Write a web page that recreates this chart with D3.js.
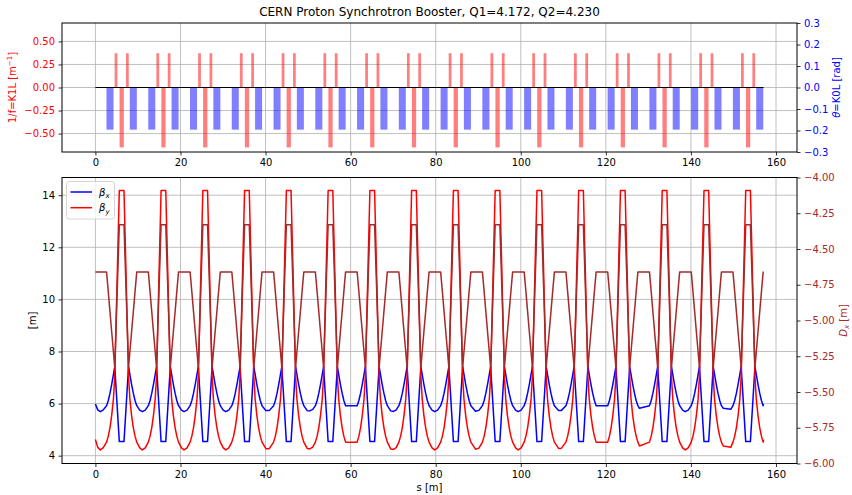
<!DOCTYPE html>
<html><head><meta charset="utf-8">
<script src="https://cdn.jsdelivr.net/npm/d3@7"></script>
<style>
body{margin:0;background:#fff}
text{font-family:"DejaVu Sans",sans-serif}
</style>
</head><body>
<svg id="c" width="852" height="495"></svg>
<script>
// ---------------- data ----------------
const title = "CERN Proton Synchrotron Booster, Q1=4.172, Q2=4.230";
const sTicks = [0, 20, 40, 60, 80, 100, 120, 140, 160];
const k1Ticks = [-0.5, -0.25, 0, 0.25, 0.5];
const k0Ticks = [-0.3, -0.2, -0.1, 0, 0.1, 0.2, 0.3];
const betaTicks = [4, 6, 8, 10, 12, 14];
const dxTicks = [-6, -5.75, -5.5, -5.25, -5, -4.75, -4.5, -4.25, -4];
const ringLength = 157.08;

// quadrupoles (centre s, K1L, length)
const quadS = [
  4.84, 6.18, 7.51, 14.66, 16.00, 17.33, 24.48, 25.82, 27.15, 34.29, 35.63, 36.96,
  44.11, 45.45, 46.78, 53.93, 55.27, 56.60, 63.75, 65.09, 66.42, 73.56, 74.90, 76.23,
  83.38, 84.72, 86.05, 93.20, 94.54, 95.87, 103.02, 104.36, 105.69, 112.83, 114.17, 115.50,
  122.65, 123.99, 125.32, 132.47, 133.81, 135.14, 142.29, 143.63, 144.96, 152.10, 153.44, 154.77
];
const quadK1L = [
  0.372, -0.65, 0.372, 0.372, -0.65, 0.372, 0.372, -0.65, 0.372, 0.372, -0.65, 0.372,
  0.372, -0.65, 0.372, 0.372, -0.65, 0.372, 0.372, -0.65, 0.372, 0.372, -0.65, 0.372,
  0.372, -0.65, 0.372, 0.372, -0.65, 0.372, 0.372, -0.65, 0.372, 0.372, -0.65, 0.372,
  0.372, -0.65, 0.372, 0.372, -0.65, 0.372, 0.372, -0.65, 0.372, 0.372, -0.65, 0.372
];
const quadL = [
  0.65, 1.0, 0.65, 0.65, 1.0, 0.65, 0.65, 1.0, 0.65, 0.65, 1.0, 0.65,
  0.65, 1.0, 0.65, 0.65, 1.0, 0.65, 0.65, 1.0, 0.65, 0.65, 1.0, 0.65,
  0.65, 1.0, 0.65, 0.65, 1.0, 0.65, 0.65, 1.0, 0.65, 0.65, 1.0, 0.65,
  0.65, 1.0, 0.65, 0.65, 1.0, 0.65, 0.65, 1.0, 0.65, 0.65, 1.0, 0.65
];
// dipoles (centre s, K0L, length)
const dipS = [
  3.43, 8.91, 13.25, 18.73, 23.07, 28.55, 32.88, 38.36, 42.70, 48.18, 52.52, 58.00,
  62.34, 67.82, 72.15, 77.63, 81.97, 87.45, 91.79, 97.27, 101.61, 107.09, 111.42, 116.90,
  121.24, 126.72, 131.06, 136.54, 140.88, 146.36, 150.69, 156.17
];
const dipK0L = [
  -0.196, -0.196, -0.196, -0.196, -0.196, -0.196, -0.196, -0.196, -0.196, -0.196, -0.196, -0.196,
  -0.196, -0.196, -0.196, -0.196, -0.196, -0.196, -0.196, -0.196, -0.196, -0.196, -0.196, -0.196,
  -0.196, -0.196, -0.196, -0.196, -0.196, -0.196, -0.196, -0.196
];
const dipL = [
  1.65, 1.65, 1.65, 1.65, 1.65, 1.65, 1.65, 1.65, 1.65, 1.65, 1.65, 1.65,
  1.65, 1.65, 1.65, 1.65, 1.65, 1.65, 1.65, 1.65, 1.65, 1.65, 1.65, 1.65,
  1.65, 1.65, 1.65, 1.65, 1.65, 1.65, 1.65, 1.65
];

// optics samples
const sPos = [
  0, 0.55, 1.15, 1.85,
  2.62, 3.03, 3.43, 3.83, 4.24, 4.55, 5.62, 6.72, 7.79, 8.10, 8.50, 8.91, 9.31, 9.72,
  10.42, 11.02, 11.72,
  12.44, 12.85, 13.25, 13.65, 14.06, 14.37, 15.44, 16.54, 17.61, 17.92, 18.32, 18.73, 19.13, 19.54,
  20.24, 20.84, 21.54,
  22.26, 22.67, 23.07, 23.47, 23.88, 24.19, 25.26, 26.36, 27.43, 27.74, 28.14, 28.55, 28.95, 29.36,
  30.05, 30.65, 31.35,
  32.07, 32.48, 32.88, 33.28, 33.69, 34.00, 35.07, 36.17, 37.24, 37.55, 37.95, 38.36, 38.76, 39.17,
  40.07, 40.87,
  41.89, 42.30, 42.70, 43.10, 43.51, 43.82, 44.89, 45.99, 47.06, 47.37, 47.77, 48.18, 48.58, 48.99,
  49.79, 50.39, 51.09,
  51.71, 52.12, 52.52, 52.92, 53.33, 53.64, 54.71, 55.81, 56.88, 57.19, 57.59, 58.00, 58.40, 58.81,
  61.53, 61.94, 62.34, 62.74, 63.15, 63.46, 64.53, 65.63, 66.70, 67.01, 67.41, 67.82, 68.22, 68.63,
  69.42, 70.07, 70.72,
  71.34, 71.75, 72.15, 72.55, 72.96, 73.27, 74.34, 75.44, 76.51, 76.82, 77.22, 77.63, 78.03, 78.44,
  79.14, 79.74, 80.44,
  81.16, 81.57, 81.97, 82.37, 82.78, 83.09, 84.16, 85.26, 86.33, 86.64, 87.04, 87.45, 87.85, 88.26,
  89.36, 90.16,
  90.98, 91.39, 91.79, 92.19, 92.60, 92.91, 93.98, 95.08, 96.15, 96.46, 96.86, 97.27, 97.67, 98.08,
  98.78, 99.38, 100.08,
  100.80, 101.21, 101.61, 102.01, 102.42, 102.73, 103.80, 104.90, 105.97, 106.28, 106.68, 107.09, 107.49, 107.90,
  108.89, 109.49,
  110.61, 111.02, 111.42, 111.82, 112.23, 112.54, 113.61, 114.71, 115.78, 116.09, 116.49, 116.90, 117.30, 117.71,
  120.43, 120.84, 121.24, 121.64, 122.05, 122.36, 123.43, 124.53, 125.60, 125.91, 126.31, 126.72, 127.12, 127.53,
  127.90,
  130.25, 130.66, 131.06, 131.46, 131.87, 132.18, 133.25, 134.35, 135.42, 135.73, 136.13, 136.54, 136.94, 137.35,
  138.05, 138.65, 139.35,
  140.07, 140.48, 140.88, 141.28, 141.69, 142.00, 143.07, 144.17, 145.24, 145.55, 145.95, 146.36, 146.76, 147.17,
  147.60, 149.36,
  149.88, 150.29, 150.69, 151.09, 151.50, 151.81, 152.88, 153.98, 155.05, 155.36, 155.76, 156.17, 156.57, 156.98,
  157.08
];
const betaX = [
  5.98, 5.76, 5.69, 5.76,
  5.92, 6.12, 6.40, 6.74, 7.12, 7.42, 4.54, 4.54, 7.42, 7.12, 6.74, 6.40, 6.12, 5.92,
  5.75, 5.69, 5.75,
  5.92, 6.12, 6.40, 6.74, 7.12, 7.42, 4.54, 4.54, 7.42, 7.12, 6.74, 6.40, 6.12, 5.92,
  5.75, 5.69, 5.75,
  5.92, 6.12, 6.40, 6.74, 7.12, 7.42, 4.54, 4.54, 7.42, 7.12, 6.74, 6.40, 6.12, 5.92,
  5.75, 5.69, 5.75,
  5.92, 6.12, 6.40, 6.74, 7.12, 7.42, 4.54, 4.54, 7.42, 7.12, 6.74, 6.40, 6.12, 5.92,
  5.73, 5.73,
  5.92, 6.12, 6.40, 6.74, 7.12, 7.42, 4.54, 4.54, 7.42, 7.12, 6.74, 6.40, 6.12, 5.92,
  5.73, 5.72, 5.78,
  5.92, 6.12, 6.40, 6.74, 7.12, 7.42, 4.54, 4.54, 7.42, 7.12, 6.74, 6.40, 6.12, 5.92,
  5.92, 6.12, 6.40, 6.74, 7.12, 7.42, 4.54, 4.54, 7.42, 7.12, 6.74, 6.40, 6.12, 5.92,
  5.72, 5.70, 5.76,
  5.92, 6.12, 6.40, 6.74, 7.12, 7.42, 4.54, 4.54, 7.42, 7.12, 6.74, 6.40, 6.12, 5.92,
  5.75, 5.69, 5.75,
  5.92, 6.12, 6.40, 6.74, 7.12, 7.42, 4.54, 4.54, 7.42, 7.12, 6.74, 6.40, 6.12, 5.92,
  5.71, 5.74,
  5.92, 6.12, 6.40, 6.74, 7.12, 7.42, 4.54, 4.54, 7.42, 7.12, 6.74, 6.40, 6.12, 5.92,
  5.75, 5.69, 5.75,
  5.92, 6.12, 6.40, 6.74, 7.12, 7.42, 4.54, 4.54, 7.42, 7.12, 6.74, 6.40, 6.12, 5.92,
  5.73, 5.73,
  5.92, 6.12, 6.40, 6.74, 7.12, 7.42, 4.54, 4.54, 7.42, 7.12, 6.74, 6.40, 6.12, 5.92,
  5.92, 6.12, 6.40, 6.74, 7.12, 7.42, 4.54, 4.54, 7.42, 7.12, 6.74, 6.40, 6.12, 5.92,
  5.82,
  5.92, 6.12, 6.40, 6.74, 7.12, 7.42, 4.54, 4.54, 7.42, 7.12, 6.74, 6.40, 6.12, 5.92,
  5.75, 5.69, 5.75,
  5.92, 6.12, 6.40, 6.74, 7.12, 7.42, 4.54, 4.54, 7.42, 7.12, 6.74, 6.40, 6.12, 5.92,
  5.82, 5.78,
  5.92, 6.12, 6.40, 6.74, 7.12, 7.42, 4.54, 4.54, 7.42, 7.12, 6.74, 6.40, 6.12, 5.92,
  5.98
];
const betaY = [
  4.62, 4.32, 4.22, 4.31,
  4.52, 4.75, 5.08, 5.55, 6.18, 7.05, 14.18, 14.18, 7.05, 6.18, 5.55, 5.08, 4.75, 4.52,
  4.30, 4.22, 4.30,
  4.52, 4.75, 5.08, 5.55, 6.18, 7.05, 14.18, 14.18, 7.05, 6.18, 5.55, 5.08, 4.75, 4.52,
  4.30, 4.22, 4.30,
  4.52, 4.75, 5.08, 5.55, 6.18, 7.05, 14.18, 14.18, 7.05, 6.18, 5.55, 5.08, 4.75, 4.52,
  4.30, 4.22, 4.30,
  4.52, 4.75, 5.08, 5.55, 6.18, 7.05, 14.18, 14.18, 7.05, 6.18, 5.55, 5.08, 4.75, 4.52,
  4.27, 4.27,
  4.52, 4.75, 5.08, 5.55, 6.18, 7.05, 14.18, 14.18, 7.05, 6.18, 5.55, 5.08, 4.75, 4.52,
  4.28, 4.26, 4.33,
  4.52, 4.75, 5.08, 5.55, 6.18, 7.05, 14.18, 14.18, 7.05, 6.18, 5.55, 5.08, 4.75, 4.52,
  4.52, 4.75, 5.08, 5.55, 6.18, 7.05, 14.18, 14.18, 7.05, 6.18, 5.55, 5.08, 4.75, 4.52,
  4.26, 4.24, 4.31,
  4.52, 4.75, 5.08, 5.55, 6.18, 7.05, 14.18, 14.18, 7.05, 6.18, 5.55, 5.08, 4.75, 4.52,
  4.30, 4.22, 4.30,
  4.52, 4.75, 5.08, 5.55, 6.18, 7.05, 14.18, 14.18, 7.05, 6.18, 5.55, 5.08, 4.75, 4.52,
  4.25, 4.29,
  4.52, 4.75, 5.08, 5.55, 6.18, 7.05, 14.18, 14.18, 7.05, 6.18, 5.55, 5.08, 4.75, 4.52,
  4.30, 4.22, 4.30,
  4.52, 4.75, 5.08, 5.55, 6.18, 7.05, 14.18, 14.18, 7.05, 6.18, 5.55, 5.08, 4.75, 4.52,
  4.28, 4.28,
  4.52, 4.75, 5.08, 5.55, 6.18, 7.05, 14.18, 14.18, 7.05, 6.18, 5.55, 5.08, 4.75, 4.52,
  4.52, 4.75, 5.08, 5.55, 6.18, 7.05, 14.18, 14.18, 7.05, 6.18, 5.55, 5.08, 4.75, 4.52,
  4.37,
  4.52, 4.75, 5.08, 5.55, 6.18, 7.05, 14.18, 14.18, 7.05, 6.18, 5.55, 5.08, 4.75, 4.52,
  4.30, 4.22, 4.30,
  4.52, 4.75, 5.08, 5.55, 6.18, 7.05, 14.18, 14.18, 7.05, 6.18, 5.55, 5.08, 4.75, 4.52,
  4.37, 4.32,
  4.52, 4.75, 5.08, 5.55, 6.18, 7.05, 14.18, 14.18, 7.05, 6.18, 5.55, 5.08, 4.75, 4.52,
  4.62
];
const dispX = [
  -4.66, -4.66, -4.66, -4.66,
  -4.66, -4.80, -4.94, -5.08, -5.22, -5.33, -4.33, -4.33, -5.33, -5.22, -5.08, -4.94, -4.80, -4.66,
  -4.66, -4.66, -4.66,
  -4.66, -4.80, -4.94, -5.08, -5.22, -5.33, -4.33, -4.33, -5.33, -5.22, -5.08, -4.94, -4.80, -4.66,
  -4.66, -4.66, -4.66,
  -4.66, -4.80, -4.94, -5.08, -5.22, -5.33, -4.33, -4.33, -5.33, -5.22, -5.08, -4.94, -4.80, -4.66,
  -4.66, -4.66, -4.66,
  -4.66, -4.80, -4.94, -5.08, -5.22, -5.33, -4.33, -4.33, -5.33, -5.22, -5.08, -4.94, -4.80, -4.66,
  -4.66, -4.66,
  -4.66, -4.80, -4.94, -5.08, -5.22, -5.33, -4.33, -4.33, -5.33, -5.22, -5.08, -4.94, -4.80, -4.66,
  -4.66, -4.66, -4.66,
  -4.66, -4.80, -4.94, -5.08, -5.22, -5.33, -4.33, -4.33, -5.33, -5.22, -5.08, -4.94, -4.80, -4.66,
  -4.66, -4.80, -4.94, -5.08, -5.22, -5.33, -4.33, -4.33, -5.33, -5.22, -5.08, -4.94, -4.80, -4.66,
  -4.66, -4.66, -4.66,
  -4.66, -4.80, -4.94, -5.08, -5.22, -5.33, -4.33, -4.33, -5.33, -5.22, -5.08, -4.94, -4.80, -4.66,
  -4.66, -4.66, -4.66,
  -4.66, -4.80, -4.94, -5.08, -5.22, -5.33, -4.33, -4.33, -5.33, -5.22, -5.08, -4.94, -4.80, -4.66,
  -4.66, -4.66,
  -4.66, -4.80, -4.94, -5.08, -5.22, -5.33, -4.33, -4.33, -5.33, -5.22, -5.08, -4.94, -4.80, -4.66,
  -4.66, -4.66, -4.66,
  -4.66, -4.80, -4.94, -5.08, -5.22, -5.33, -4.33, -4.33, -5.33, -5.22, -5.08, -4.94, -4.80, -4.66,
  -4.66, -4.66,
  -4.66, -4.80, -4.94, -5.08, -5.22, -5.33, -4.33, -4.33, -5.33, -5.22, -5.08, -4.94, -4.80, -4.66,
  -4.66, -4.80, -4.94, -5.08, -5.22, -5.33, -4.33, -4.33, -5.33, -5.22, -5.08, -4.94, -4.80, -4.66,
  -4.66,
  -4.66, -4.80, -4.94, -5.08, -5.22, -5.33, -4.33, -4.33, -5.33, -5.22, -5.08, -4.94, -4.80, -4.66,
  -4.66, -4.66, -4.66,
  -4.66, -4.80, -4.94, -5.08, -5.22, -5.33, -4.33, -4.33, -5.33, -5.22, -5.08, -4.94, -4.80, -4.66,
  -4.66, -4.66,
  -4.66, -4.80, -4.94, -5.08, -5.22, -5.33, -4.33, -4.33, -5.33, -5.22, -5.08, -4.94, -4.80, -4.66,
  -4.66
];

// ---------------- drawing ----------------
const svg = d3.select("#c");
const L = 62, R = 797;
const T1 = 23, B1 = 152, T2 = 177.5, B2 = 463.5;
const GRID = "#b0b0b0";
const BROWN = "#a52a2a";

const x = d3.scaleLinear().domain([-7.854, 164.934]).range([L, R]);
const yK1 = d3.scaleLinear().domain([-0.7, 0.7]).range([B1, T1]);
const yK0 = d3.scaleLinear().domain([-0.3, 0.3]).range([B1, T1]);
const yB = d3.scaleLinear().domain([3.70, 14.68]).range([B2, T2]);
const yDx = d3.scaleLinear().domain([-6, -4]).range([B2, T2]);

function grid(g, xs, ys, yTicks, top, bot) {
  g.selectAll(".vg").data(sTicks).join("line")
    .attr("x1", d => xs(d)).attr("x2", d => xs(d)).attr("y1", top).attr("y2", bot)
    .attr("stroke", GRID).attr("stroke-width", 0.8);
  g.selectAll(".hg").data(yTicks).join("line")
    .attr("x1", L).attr("x2", R).attr("y1", d => ys(d)).attr("y2", d => ys(d))
    .attr("stroke", GRID).attr("stroke-width", 0.8);
}
function styleAxis(sel, color) {
  sel.select(".domain").remove();
  sel.selectAll(".tick line").attr("stroke", "#000").attr("stroke-width", 0.8);
  sel.selectAll(".tick text").attr("fill", color).attr("font-size", 10)
     .attr("font-family", "DejaVu Sans, sans-serif");
}

// ===== top panel =====
const gTop = svg.append("g");
grid(gTop.append("g"), x, yK1, k1Ticks, T1, B1);

gTop.append("g").selectAll("rect").data(dipS).join("rect")
  .attr("x", (d, i) => x(d - dipL[i] / 2))
  .attr("width", (d, i) => x(d + dipL[i] / 2) - x(d - dipL[i] / 2))
  .attr("y", (d, i) => Math.min(yK0(0), yK0(dipK0L[i])))
  .attr("height", (d, i) => Math.abs(yK0(dipK0L[i]) - yK0(0)))
  .attr("fill", "#0000ff").attr("fill-opacity", 0.5);

gTop.append("g").selectAll("rect").data(quadS).join("rect")
  .attr("x", (d, i) => x(d - quadL[i] / 2))
  .attr("width", (d, i) => x(d + quadL[i] / 2) - x(d - quadL[i] / 2))
  .attr("y", (d, i) => Math.min(yK1(0), yK1(quadK1L[i])))
  .attr("height", (d, i) => Math.abs(yK1(quadK1L[i]) - yK1(0)))
  .attr("fill", "#ff0000").attr("fill-opacity", 0.5);

gTop.append("line")
  .attr("x1", x(0)).attr("x2", x(ringLength)).attr("y1", yK1(0)).attr("y2", yK1(0))
  .attr("stroke", "#000").attr("stroke-width", 1.2);

gTop.append("rect").attr("x", L).attr("y", T1).attr("width", R - L).attr("height", B1 - T1)
  .attr("fill", "none").attr("stroke", "#000").attr("stroke-width", 1);

gTop.append("g").attr("transform", `translate(0,${B1})`)
  .call(d3.axisBottom(x).tickValues(sTicks).tickFormat(d3.format("d")).tickSize(3.5).tickPadding(3.5))
  .call(s => styleAxis(s, "#000"));
gTop.append("g").attr("transform", `translate(${L},0)`)
  .call(d3.axisLeft(yK1).tickValues(k1Ticks).tickFormat(d3.format(".2f")).tickSize(3.5).tickPadding(3.5))
  .call(s => styleAxis(s, "#ff0000"));
gTop.append("g").attr("transform", `translate(${R},0)`)
  .call(d3.axisRight(yK0).tickValues(k0Ticks).tickFormat(d3.format(".1f")).tickSize(3.5).tickPadding(3.5))
  .call(s => styleAxis(s, "#0000ff"));

// top labels
const tl = svg.append("text").attr("transform", `translate(16,${(T1 + B1) / 2}) rotate(-90)`)
  .attr("text-anchor", "middle").attr("font-size", 10).attr("fill", "#ff0000");
tl.append("tspan").text("1/f=K1L [m");
tl.append("tspan").attr("font-size", 7).attr("dy", -4).text("−1");
tl.append("tspan").attr("dy", 4).text("]");

const tr = svg.append("text").attr("transform", `translate(840,${(T1 + B1) / 2}) rotate(-90)`)
  .attr("text-anchor", "middle").attr("font-size", 10).attr("fill", "#0000ff");
tr.append("tspan").attr("font-style", "italic").text("θ");
tr.append("tspan").text("=K0L [rad]");

svg.append("text").attr("x", (L + R) / 2).attr("y", 16).attr("text-anchor", "middle")
  .attr("font-size", 12).attr("fill", "#000").text(title);

// ===== bottom panel =====
const gBot = svg.append("g");
grid(gBot.append("g"), x, yB, betaTicks, T2, B2);

const idx = d3.range(sPos.length);
const lineB = arr => d3.line().x(i => x(sPos[i])).y(i => yB(arr[i]));
const lineD = d3.line().x(i => x(sPos[i])).y(i => yDx(dispX[i]));

gBot.append("path").attr("d", lineB(betaX)(idx)).attr("fill", "none")
  .attr("stroke", "#0000ff").attr("stroke-width", 1.5).attr("stroke-linejoin", "round");
gBot.append("path").attr("d", lineB(betaY)(idx)).attr("fill", "none")
  .attr("stroke", "#ff0000").attr("stroke-width", 1.5).attr("stroke-linejoin", "round");
gBot.append("path").attr("d", lineD(idx)).attr("fill", "none")
  .attr("stroke", BROWN).attr("stroke-width", 1.5).attr("stroke-linejoin", "round");

gBot.append("rect").attr("x", L).attr("y", T2).attr("width", R - L).attr("height", B2 - T2)
  .attr("fill", "none").attr("stroke", "#000").attr("stroke-width", 1);

gBot.append("g").attr("transform", `translate(0,${B2})`)
  .call(d3.axisBottom(x).tickValues(sTicks).tickFormat(d3.format("d")).tickSize(3.5).tickPadding(3.5))
  .call(s => styleAxis(s, "#000"));
gBot.append("g").attr("transform", `translate(${L},0)`)
  .call(d3.axisLeft(yB).tickValues(betaTicks).tickFormat(d3.format("d")).tickSize(3.5).tickPadding(3.5))
  .call(s => styleAxis(s, "#000"));
gBot.append("g").attr("transform", `translate(${R},0)`)
  .call(d3.axisRight(yDx).tickValues(dxTicks).tickFormat(d3.format(".2f")).tickSize(3.5).tickPadding(3.5))
  .call(s => styleAxis(s, BROWN));

svg.append("text").attr("x", (L + R) / 2).attr("y", 491).attr("text-anchor", "middle")
  .attr("font-size", 10).text("s [m]");
svg.append("text").attr("transform", `translate(36,${(T2 + B2) / 2}) rotate(-90)`)
  .attr("text-anchor", "middle").attr("font-size", 10).text("[m]");
const dl = svg.append("text").attr("transform", `translate(847,${(T2 + B2) / 2}) rotate(-90)`)
  .attr("text-anchor", "middle").attr("font-size", 10).attr("fill", BROWN);
dl.append("tspan").attr("font-style", "italic").text("D");
dl.append("tspan").attr("font-size", 7).attr("dy", 2).attr("font-style", "italic").text("x");
dl.append("tspan").attr("dy", -2).text(" [m]");

// legend
const lg = svg.append("g").attr("transform", "translate(66.5,181.5)");
lg.append("rect").attr("width", 48).attr("height", 37.5).attr("rx", 2.5)
  .attr("fill", "#fff").attr("fill-opacity", 0.8).attr("stroke", "#cccccc").attr("stroke-width", 0.8);
const legItems = [{c: "#0000ff", sub: "x"}, {c: "#ff0000", sub: "y"}];
legItems.forEach((it, i) => {
  const yy = 10.5 + i * 15.7;
  lg.append("line").attr("x1", 4).attr("x2", 25.5).attr("y1", yy).attr("y2", yy)
    .attr("stroke", it.c).attr("stroke-width", 1.5);
  const t = lg.append("text").attr("x", 32.5).attr("y", yy + 3.5).attr("font-size", 10);
  t.append("tspan").attr("font-style", "italic").text("β");
  t.append("tspan").attr("font-style", "italic").attr("font-size", 7).attr("dy", 2.5).text(it.sub);
});
</script>
</body></html>
